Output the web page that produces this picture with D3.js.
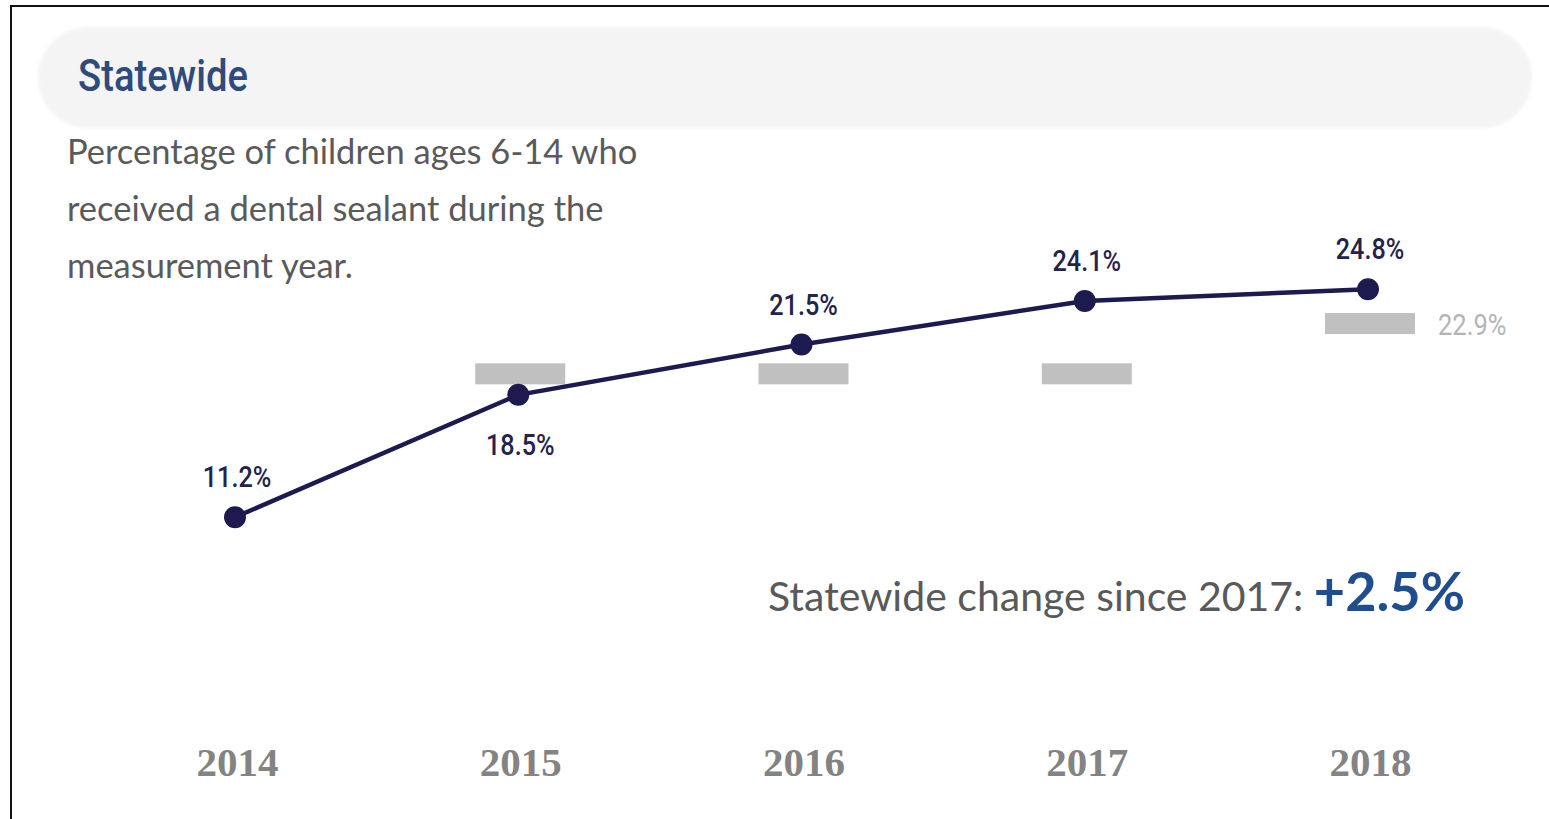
<!DOCTYPE html>
<html>
<head>
<meta charset="utf-8">
<script src="https://cdn.jsdelivr.net/npm/d3@7"></script>
<style>
  html, body { margin: 0; padding: 0; background: #fff; }
  svg { display: block; }
</style>
</head>
<body>
<svg id="chart" width="1549" height="819"></svg>
<script>
// Statewide dental sealant rate by measurement year
const years = ["2014", "2015", "2016", "2017", "2018"];
const rates = [11.2, 18.5, 21.5, 24.1, 24.8];
// Benchmark per year (only the latest one is labelled)
const benchmarks = [null, 19.9, 19.9, 19.9, 22.9];
const benchmarkLabel = "22.9%";
// Label placement relative to the point: above or below
const labelSide = ["above", "below", "above", "above", "above"];

const titleText = "Statewide";
const subtitleLines = [
  "Percentage of children ages 6-14 who",
  "received a dental sealant during the",
  "measurement year."
];
const changeText = "Statewide change since 2017: ";
const changeValue = "+2.5%";

const svg = d3.select("#chart");

// Narrow the glyphs of a text selection horizontally (condensed face substitute)
function condense(sel, factor) {
  sel.each(function () {
    const w = this.getComputedTextLength();
    d3.select(this)
      .attr("textLength", w * factor)
      .attr("lengthAdjust", "spacingAndGlyphs");
  });
  return sel;
}

// Outer frame
svg.append("rect")
  .attr("x", 11).attr("y", 6)
  .attr("width", 1600).attr("height", 900)
  .attr("fill", "#fff")
  .attr("stroke", "#111").attr("stroke-width", 2);

// Header pill
const defs = svg.append("defs");
defs.append("filter").attr("id", "soft")
  .append("feGaussianBlur").attr("stdDeviation", 1.5);

svg.append("rect")
  .attr("x", 38).attr("y", 27)
  .attr("width", 1494).attr("height", 101)
  .attr("rx", 50).attr("ry", 50)
  .attr("fill", "#f4f4f5")
  .attr("filter", "url(#soft)");

svg.append("text")
  .attr("x", 78).attr("y", 91)
  .attr("font-family", "Roboto, 'Liberation Sans', sans-serif")
  .attr("font-weight", 500)
  .attr("font-size", 45)
  .attr("fill", "#2e4b7b")
  .text(titleText)
  .call(condense, 0.85);

// Description
svg.append("g")
  .selectAll("text")
  .data(subtitleLines)
  .join("text")
  .attr("x", 67)
  .attr("y", (d, i) => 164 + i * 57)
  .attr("font-family", "Lato, 'Open Sans', sans-serif")
  .attr("font-size", 34.5)
  .attr("fill", "#5a5a5a")
  .text(d => d);

// Scales
const x = d3.scalePoint()
  .domain(years)
  .range([235, 1368]);

const y = d3.scaleLinear()
  .domain([0, 30])
  .range([705, 202]);

// Benchmark bars
const barW = 90, barH = 21;
svg.append("g")
  .selectAll("rect")
  .data(years.map((yr, i) => ({ yr, v: benchmarks[i] })).filter(d => d.v != null))
  .join("rect")
  .attr("x", d => x(d.yr) + 2 - barW / 2)
  .attr("y", d => y(d.v) + 2.5 - barH / 2)
  .attr("width", barW)
  .attr("height", barH)
  .attr("fill", "#c0c0c0");

svg.append("text")
  .attr("x", x(years[4]) + 70)
  .attr("y", y(benchmarks[4]) + 14)
  .attr("font-family", "Roboto, 'Liberation Sans', sans-serif")
  .attr("font-size", 29)
  .attr("fill", "#b4b4b4")
  .text(benchmarkLabel)
  .call(condense, 0.88);

// Trend line
const pts = years.map((yr, i) => ({ yr, v: rates[i], side: labelSide[i] }));

svg.append("path")
  .datum(pts)
  .attr("fill", "none")
  .attr("stroke", "#1c1a4f")
  .attr("stroke-width", 4.5)
  .attr("d", d3.line().x(d => x(d.yr)).y(d => y(d.v)));

svg.append("g")
  .selectAll("circle")
  .data(pts)
  .join("circle")
  .attr("cx", d => x(d.yr))
  .attr("cy", d => y(d.v))
  .attr("r", 11)
  .attr("fill", "#1c1a4f");

// Value labels
svg.append("g")
  .selectAll("text")
  .data(pts)
  .join("text")
  .attr("x", d => x(d.yr) + 2)
  .attr("y", d => d.side === "above" ? y(d.v) - 30 : y(d.v) + 60)
  .attr("text-anchor", "middle")
  .attr("font-family", "Roboto, 'Liberation Sans', sans-serif")
  .attr("font-weight", 500)
  .attr("font-size", 30)
  .attr("fill", "#24234a")
  .text(d => d.v.toFixed(1) + "%")
  .call(condense, 0.84);

// Change since last year
const change = svg.append("text")
  .attr("x", 768).attr("y", 611)
  .attr("font-family", "Lato, 'Open Sans', sans-serif")
  .attr("fill", "#595959");
change.append("tspan")
  .attr("font-size", 41)
  .text(changeText);
change.append("tspan")
  .attr("font-size", 54)
  .attr("font-weight", "bold")
  .attr("fill", "#1f4e8e")
  .text(changeValue);

// Year axis
const xAxis = d3.axisBottom(x).tickSize(0).tickPadding(0);
const axisG = svg.append("g")
  .attr("transform", "translate(2,744)")
  .call(xAxis);
axisG.select(".domain").remove();
axisG.selectAll("text")
  .attr("dy", "0.78em")
  .attr("font-family", "'Liberation Serif', serif")
  .attr("font-weight", "bold")
  .attr("font-size", 41)
  .attr("fill", "#838383");
</script>
</body>
</html>
